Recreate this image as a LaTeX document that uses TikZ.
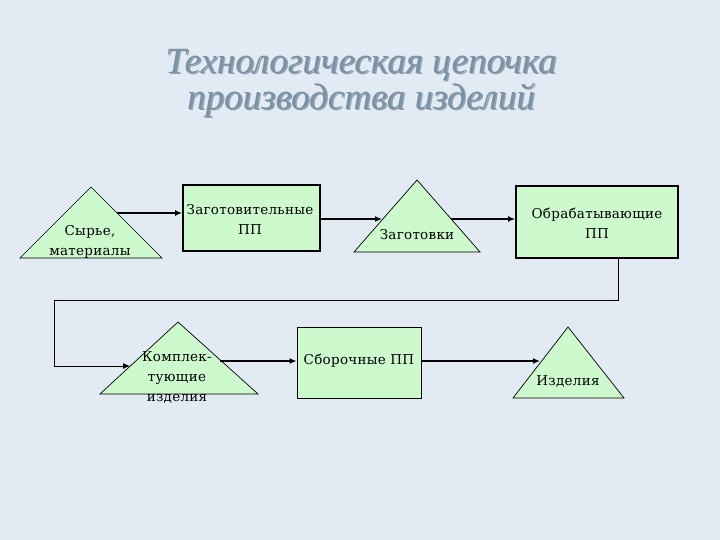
\documentclass[tikz,border=0pt]{standalone}
\usepackage{fontspec}
\setmainfont{DejaVu Serif}[LetterSpace=2]
\newfontfamily\titlefont{Liberation Serif}
\usetikzlibrary{arrows.meta}
\definecolor{bgc}{RGB}{226,234,244}
\definecolor{boxfill}{RGB}{204,250,204}
\definecolor{titlec}{RGB}{122,146,166}
\definecolor{shadowc}{RGB}{150,162,176}
\tikzset{
  boxnode/.style={draw=black, fill=boxfill, inner sep=0pt},
  thickbox/.style={boxnode, line width=1.8pt},
  thinbox/.style={boxnode, line width=0.9pt},
  tri/.style={draw=black, fill=boxfill, line width=0.7pt},
  lbl/.style={font=\fontsize{13.5}{20}\selectfont, align=center, inner sep=0pt},
  conn/.style={line width=1.8pt, -{Latex[length=7pt,width=6pt]}},
  connthin/.style={line width=1pt, -{Latex[length=7pt,width=6pt]}},
  ttl/.style={font=\titlefont\itshape\fontsize{37}{38}\selectfont, inner sep=0pt}
}
\begin{document}
\begin{tikzpicture}[x=1pt,y=-1pt]
\fill[bgc] (0,0) rectangle (720,540);
\useasboundingbox (0,0) rectangle (720,540);
% title
\node[ttl, text=shadowc] at (362.5,66.5) {Технологическая цепочка};
\node[ttl, text=titlec] (t1) at (361,65) {Технологическая цепочка};
\node[ttl, text=shadowc] at (362.5,101.5) {производства изделий};
\node[ttl, text=titlec] (t2) at (361,100) {производства изделий};
% triangles
\coordinate (a1) at (91,187); \coordinate (l1) at (20,258); \coordinate (r1) at (162,258);
\filldraw[tri] (a1) -- (r1) -- (l1) -- cycle;
\coordinate (a2) at (417,180); \coordinate (l2) at (354,252); \coordinate (r2) at (480,252);
\filldraw[tri] (a2) -- (r2) -- (l2) -- cycle;
\coordinate (a3) at (178,322); \coordinate (l3) at (100,394); \coordinate (r3) at (258,394);
\filldraw[tri] (a3) -- (r3) -- (l3) -- cycle;
\coordinate (a4) at (568,327); \coordinate (l4) at (513,398); \coordinate (r4) at (624,398);
\filldraw[tri] (a4) -- (r4) -- (l4) -- cycle;
% boxes
\node[thickbox, minimum width=137pt, minimum height=66pt] (b1) at (251.5,218) {};
\node[thickbox, minimum width=162pt, minimum height=72pt] (b2) at (597,222) {};
\node[thinbox, minimum width=124pt, minimum height=71pt] (b3) at (359,362.5) {};
% labels
\node[lbl] (s1) at (90,242) {Сырье,\\материалы};
\node[lbl] (s2) at (250,219) {Заготовительные\\ПП};
\node[lbl] (s3) at (417,235) {Заготовки};
\node[lbl] (s4) at (597,223) {Обрабатывающие\\ПП};
\node[lbl] (s5) at (177,378) {Комплек-\\тующие\\изделия};
\node[lbl] (s6) at (359,361) {Сборочные ПП};
\node[lbl] (s7) at (568,382) {Изделия};
% connector points
\coordinate (e1) at (117,213);
\coordinate (e2) at (382,219);
\coordinate (e3) at (451,219);
\coordinate (e4) at (130,366);
\coordinate (e5) at (220,361);
\coordinate (e6) at (540,361);
\coordinate (k1) at (54,300);
% connectors
\draw[conn] (e1) -- (e1 -| b1.west);
\draw[conn] (b1.east |- e2) -- (e2);
\draw[conn] (e3) -- (e3 -| b2.west);
\draw[connthin] (b2.south -| 618,0) -- (618,300) -- (k1) -- (k1 |- e4) -- (e4);
\draw[conn] (e5) -- (e5 -| b3.west);
\draw[conn] (b3.east |- e6) -- (e6);
\end{tikzpicture}
\end{document}
